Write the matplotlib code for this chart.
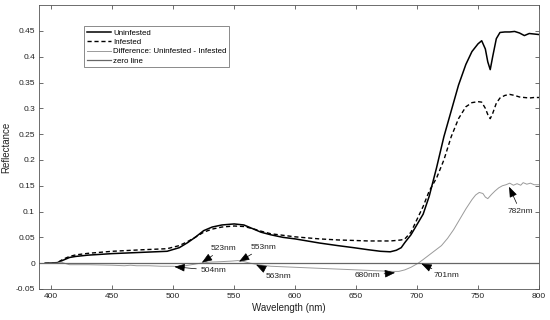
import matplotlib
matplotlib.use("Agg")
import matplotlib.pyplot as plt

plt.rcParams['font.family'] = ['Liberation Sans', 'DejaVu Sans']

wl = [395, 405, 410, 415, 420, 430, 450, 475, 495, 505, 512, 518, 525, 532, 540,
      550, 558, 565, 572, 580, 590, 600, 610, 620, 635, 648, 660, 670, 678, 683,
      687, 690, 695, 700, 705, 710, 716, 722, 728, 734, 740, 745, 750, 753, 756,
      758, 760, 762, 765, 768, 772, 776, 780, 784, 788, 792, 796, 800]
uninfested = [0, 0.001, 0.006, 0.011, 0.013, 0.0155, 0.0185, 0.021, 0.023, 0.03,
              0.04, 0.05, 0.063, 0.07, 0.074, 0.076, 0.074, 0.067, 0.06, 0.055,
              0.05, 0.047, 0.043, 0.039, 0.034, 0.03, 0.026, 0.023, 0.022, 0.025,
              0.03, 0.04, 0.055, 0.075, 0.095, 0.13, 0.185, 0.245, 0.295, 0.345,
              0.385, 0.41, 0.425, 0.431, 0.415, 0.39, 0.375, 0.4, 0.435, 0.447,
              0.448, 0.448, 0.449, 0.446, 0.441, 0.445, 0.444, 0.443]
infested = [0, 0.001, 0.008, 0.013, 0.016, 0.019, 0.023, 0.026, 0.028, 0.034,
            0.042, 0.05, 0.06, 0.066, 0.07, 0.072, 0.071, 0.067, 0.062, 0.057,
            0.054, 0.051, 0.049, 0.047, 0.045, 0.044, 0.043, 0.043, 0.043, 0.044,
            0.045, 0.047, 0.06, 0.085, 0.11, 0.14, 0.165, 0.2, 0.245, 0.28,
            0.303, 0.311, 0.313, 0.312, 0.3, 0.288, 0.28, 0.29, 0.31, 0.32,
            0.325, 0.327, 0.325, 0.322, 0.321, 0.32, 0.321, 0.321]

wl_diff = [395, 405, 408, 412, 415, 430, 450, 460, 465, 470, 480, 490, 500, 504,
           510, 515, 520, 523, 530, 540, 548, 553, 558, 563, 570, 580, 590, 600,
           610, 620, 630, 640, 650, 660, 670, 680, 685, 690, 695, 701, 705, 710,
           715, 720, 725, 730, 735, 740, 745, 748, 751, 754, 756, 758, 761, 764,
           767, 770, 773, 776, 779, 782, 785, 787, 790, 793, 796, 800]
difference = [0, 0, 0.002, -0.001, -0.003, -0.003, -0.004, -0.005, -0.004, -0.005,
              -0.005, -0.006, -0.006, -0.007, -0.005, -0.003, -0.001, 0, 0.002,
              0.003, 0.004, 0.005, 0.003, 0, -0.003, -0.006, -0.007, -0.008,
              -0.009, -0.01, -0.011, -0.012, -0.013, -0.014, -0.015, -0.016,
              -0.016, -0.013, -0.008, 0, 0.007, 0.016, 0.025, 0.034, 0.048,
              0.065, 0.085, 0.105, 0.123, 0.132, 0.137, 0.135, 0.128, 0.125,
              0.133, 0.14, 0.146, 0.15, 0.152, 0.155, 0.151, 0.154, 0.151, 0.156,
              0.153, 0.155, 0.152, 0.152]

zero_x = [390, 800]
zero_y = [0, 0]

ann_labels = ['523nm', '553nm', '504nm', '563nm', '680nm', '701nm', '782nm']
ann_points = [(523.5, 0.001), (554, 0.003), (501, -0.007), (568, -0.003),
              (682, -0.0185), (703.5, -0.001), (775.5, 0.148)]
ann_text = [(541, 0.0285), (574, 0.031), (533, -0.014), (586, -0.025),
            (659, -0.024), (724, -0.024), (784.5, 0.101)]

xticks = [400, 450, 500, 550, 600, 650, 700, 750, 800]
yticks = [-0.05, 0, 0.05, 0.1, 0.15, 0.2, 0.25, 0.3, 0.35, 0.4, 0.45]
ytick_labels = ['-0.05', '0', '0.05', '0.1', '0.15', '0.2', '0.25', '0.3',
                '0.35', '0.4', '0.45']

fig = plt.figure(figsize=(5.5, 3.2), dpi=100)
ax = fig.add_axes([0.071, 0.097, 0.909, 0.887])

ax.plot(wl, uninfested, color='black', lw=1.1, label='Uninfested')
ax.plot(wl, infested, color='black', lw=1.0, ls=(0, (3, 2)), label='Infested')
ax.plot(wl_diff, difference, color='#9a9a9a', lw=0.7,
        label='Difference: Uninfested - Infested')
ax.plot(zero_x, zero_y, color='#666666', lw=0.9, label='zero line')

for lab, pt, tp in zip(ann_labels, ann_points, ann_text):
    ax.annotate(lab, xy=pt, xytext=tp, fontsize=6, color='#222222',
                ha='center', va='center',
                arrowprops=dict(arrowstyle='-|>,head_length=0.8,head_width=0.3',
                                color='black', lw=0.5, mutation_scale=8,
                                shrinkA=1, shrinkB=0))

ax.set_xlim(390, 800)
ax.set_ylim(-0.05, 0.5)
ax.set_xticks(xticks)
ax.set_yticks(yticks)
ax.set_yticklabels(ytick_labels)
ax.tick_params(direction='in', top=True, right=True, length=3, width=0.6,
               labelsize=6, colors='#555555', labelcolor='#222222', pad=3)
for s in ax.spines.values():
    s.set_color('#555555')
    s.set_linewidth(0.6)

ax.set_xlabel('Wavelength (nm)', fontsize=7, color='#222222', labelpad=2)
ax.set_ylabel('Reflectance', fontsize=7, color='#222222', labelpad=3)

leg = ax.legend(loc='upper left', bbox_to_anchor=(0.09, 0.925), fontsize=5.7,
                frameon=True, fancybox=False, handlelength=3.0,
                borderpad=0.35, labelspacing=0.22, handletextpad=0.3,
                borderaxespad=0)
leg.get_frame().set_edgecolor('#555555')
leg.get_frame().set_linewidth(0.6)

fig.savefig('out.png', dpi=100)
